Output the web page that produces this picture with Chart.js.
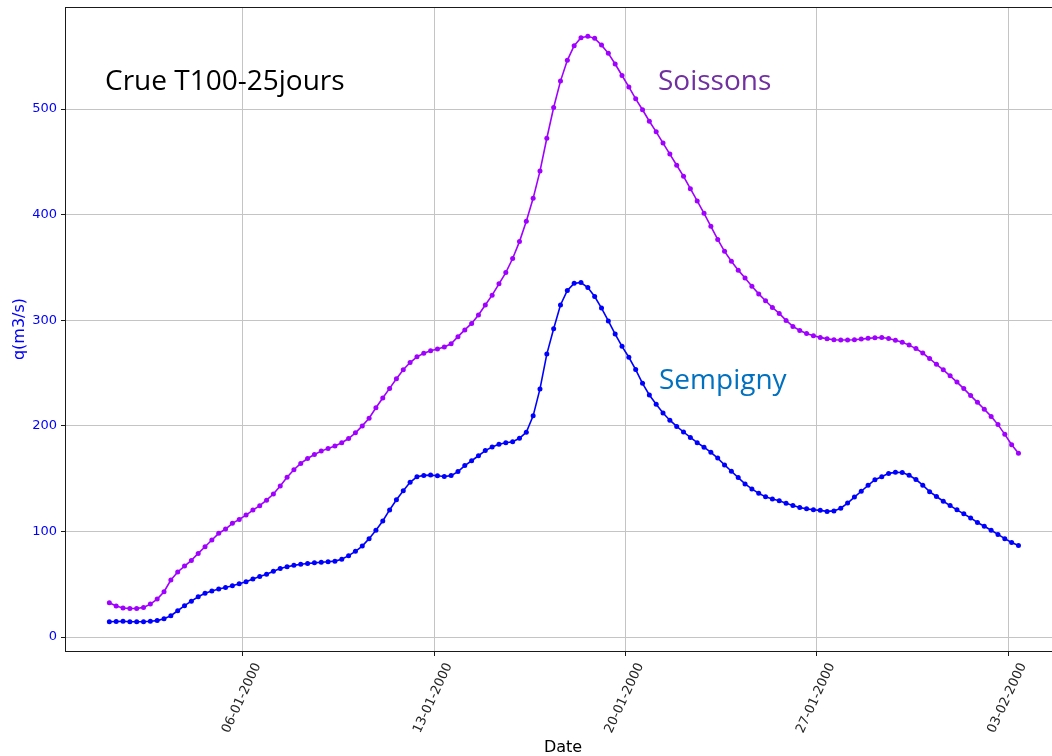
<!DOCTYPE html>
<html>
<head>
<meta charset="utf-8">
<title>Crue T100-25jours</title>
<script src="https://cdn.jsdelivr.net/npm/chart.js@4.4.1/dist/chart.umd.min.js"></script>
<style>
  html, body { margin: 0; padding: 0; background: #ffffff; overflow: hidden; }
  canvas { display: block; }
</style>
</head>
<body>
<canvas id="hydro" width="1072" height="756" style="width:1072px;height:756px"></canvas>
<script>
// Pas de temps : 6 h, premier pas le 01-01-2000 à 03:00 (abscisse en jours depuis le 01-01-2000 00:00)
const startDay = 0.125;
const stepDay = 0.25;

// Débit à Sempigny (m3/s)
const sempigny = [
  14.5, 14.7, 15.0, 14.5, 14.5, 14.5, 15.0, 15.6, 17.4, 20.2, 24.9, 29.7, 34.0, 38.2, 41.4, 43.6,
  45.5, 47.0, 48.6, 50.5, 52.4, 54.9, 57.3, 59.5, 62.4, 65.0, 66.6, 67.9, 68.9, 69.6, 70.3, 70.9,
  71.3, 71.9, 73.7, 77.1, 81.2, 86.2, 93.2, 101.1, 109.9, 120.4, 130.0, 138.5, 146.5, 151.8, 153.1, 153.4,
  152.8, 152.0, 152.9, 156.7, 162.4, 167.0, 171.7, 176.6, 180.0, 182.7, 184.0, 185.0, 188.2, 194.0, 209.5, 235.0,
  268.0, 292.0, 314.5, 328.2, 335.0, 335.8, 331.0, 322.5, 311.6, 299.4, 287.0, 275.3, 265.0, 253.3, 240.3, 229.3,
  220.5, 212.2, 205.4, 199.5, 194.2, 189.1, 184.1, 179.8, 175.0, 169.5, 163.0, 157.0, 151.0, 145.0, 140.3, 136.1,
  132.8, 130.8, 129.1, 126.8, 124.7, 122.7, 121.4, 120.6, 120.0, 119.0, 119.5, 122.0, 126.9, 132.6, 138.1, 143.7,
  149.0, 151.8, 155.0, 156.0, 155.8, 153.2, 149.2, 143.8, 137.7, 133.1, 128.6, 124.5, 120.5, 116.7, 112.8, 108.5,
  104.9, 101.1, 97.2, 93.2, 89.5, 86.7
];

// Débit à Soissons (m3/s)
const soissons = [
  32.5, 29.4, 27.5, 27.1, 27.1, 28.1, 31.2, 36.0, 42.9, 54.0, 61.6, 67.2, 72.6, 79.2, 85.5, 91.9,
  98.2, 102.3, 107.7, 111.4, 115.5, 120.3, 124.4, 129.6, 135.5, 143.1, 151.4, 158.5, 164.4, 169.1, 172.9, 176.1,
  178.6, 181.0, 184.0, 188.0, 193.4, 200.0, 207.3, 217.2, 226.4, 235.5, 244.7, 253.1, 260.0, 265.4, 268.8, 271.2,
  272.8, 274.8, 277.7, 284.5, 290.9, 297.0, 305.0, 314.5, 323.8, 334.5, 345.2, 358.5, 374.5, 393.8, 415.5, 441.3,
  472.4, 501.5, 526.5, 546.2, 560.0, 567.5, 569.0, 567.0, 560.6, 552.8, 542.7, 531.8, 521.0, 509.7, 499.4, 488.5,
  478.5, 467.8, 457.4, 446.8, 436.3, 424.6, 413.0, 401.3, 389.0, 376.6, 365.3, 356.0, 347.5, 340.0, 332.2, 325.0,
  318.5, 312.1, 306.5, 299.9, 294.2, 290.4, 287.4, 285.4, 283.8, 282.4, 281.6, 281.3, 281.3, 281.5, 282.2, 282.9,
  283.5, 283.7, 282.8, 281.0, 279.2, 276.5, 273.2, 269.0, 263.8, 258.3, 253.1, 247.4, 241.5, 235.3, 228.7, 222.3,
  215.8, 209.0, 201.2, 192.0, 182.2, 174.0
];

// Graduations
const tickDays = [5, 12, 19, 26, 33];
const tickLabels = ['06-01-2000', '13-01-2000', '20-01-2000', '27-01-2000', '03-02-2000'];
const yTicks = [0, 100, 200, 300, 400, 500];

const toPoints = arr => arr.map((v, i) => ({ x: startDay + i * stepDay, y: v }));

const TICK_FONT = '13px "DejaVu Sans"';
const LABEL_FONT = '16px "DejaVu Sans"';
const NOTE_FONT = '28px "Open Sans"';

// Cadre, étiquettes de dates inclinées, titres d'axes et annotations
const decor = {
  id: 'decor',
  afterDraw(chart) {
    const { ctx, chartArea: a, scales: { x } } = chart;
    ctx.save();

    ctx.strokeStyle = '#1a1a1a';
    ctx.lineWidth = 1;
    ctx.strokeRect(Math.round(a.left) - 0.5, Math.round(a.top) + 0.5,
                   Math.round(a.right - a.left) + 1, Math.round(a.bottom - a.top));

    ctx.fillStyle = '#262626';
    ctx.font = TICK_FONT;
    ctx.textAlign = 'center';
    ctx.textBaseline = 'middle';
    tickDays.forEach((d, k) => {
      const px = x.getPixelForValue(d);
      ctx.save();
      ctx.translate(px - 1, a.bottom + 47);
      ctx.rotate(-65 * Math.PI / 180);
      ctx.fillText(tickLabels[k], 0, 0);
      ctx.restore();
    });

    ctx.font = LABEL_FONT;
    ctx.fillStyle = '#000000';
    ctx.textBaseline = 'alphabetic';
    ctx.fillText('Date', (a.left + a.right) / 2 - 2, 752);

    ctx.save();
    ctx.fillStyle = '#0000ff';
    ctx.translate(24, (a.top + a.bottom) / 2);
    ctx.rotate(-Math.PI / 2);
    ctx.fillText('q(m3/s)', 0, 0);
    ctx.restore();

    ctx.font = NOTE_FONT;
    ctx.textAlign = 'left';
    ctx.fillStyle = '#000000';
    ctx.fillText('Crue T100-25jours', 105, 90);
    ctx.fillStyle = '#7030A0';
    ctx.fillText('Soissons', 658, 90);
    ctx.fillStyle = '#0070C0';
    ctx.fillText('Sempigny', 659, 389);

    ctx.restore();
  }
};

new Chart(document.getElementById('hydro'), {
  type: 'line',
  data: {
    datasets: [
      {
        label: 'Soissons',
        data: toPoints(soissons),
        borderColor: '#a000ff',
        backgroundColor: '#a000ff',
        borderWidth: 1.6,
        pointRadius: 2.5,
        pointBorderWidth: 0,
        pointHoverRadius: 0,
        tension: 0
      },
      {
        label: 'Sempigny',
        data: toPoints(sempigny),
        borderColor: '#0000ff',
        backgroundColor: '#0000ff',
        borderWidth: 1.6,
        pointRadius: 2.5,
        pointBorderWidth: 0,
        pointHoverRadius: 0,
        tension: 0
      }
    ]
  },
  options: {
    responsive: false,
    animation: false,
    devicePixelRatio: 1,
    layout: { padding: { top: 7, right: 8, left: 0, bottom: 0 } },
    plugins: { legend: { display: false }, tooltip: { enabled: false } },
    scales: {
      x: {
        type: 'linear',
        min: -1.46,
        max: 35.04,
        afterBuildTicks: s => { s.ticks = tickDays.map(v => ({ value: v })); },
        afterFit: s => { s.height = 105; s.paddingLeft = 0; s.paddingRight = 0; },
        ticks: { display: false },
        grid: { color: '#c4c4c4', lineWidth: 1, tickColor: '#1a1a1a', tickLength: 5, drawTicks: true },
        border: { display: false }
      },
      y: {
        type: 'linear',
        min: -13.2,
        max: 596.7,
        afterBuildTicks: s => { s.ticks = yTicks.map(v => ({ value: v })); },
        afterFit: s => { s.width = 66; s.paddingTop = 0; s.paddingBottom = 0; },
        ticks: {
          color: '#0000ff',
          font: { family: 'DejaVu Sans', size: 13 },
          padding: 4,
          callback: v => String(v)
        },
        grid: { color: '#c4c4c4', lineWidth: 1, tickColor: '#1a1a1a', tickLength: 5, drawTicks: true },
        border: { display: false }
      }
    }
  },
  plugins: [decor]
});
</script>
</body>
</html>
